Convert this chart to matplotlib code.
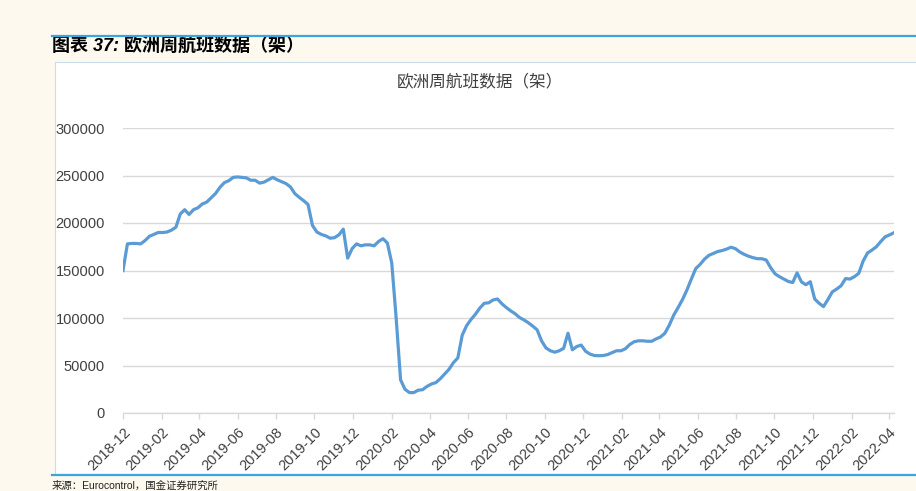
import matplotlib
matplotlib.use("Agg")
import matplotlib.pyplot as plt
from matplotlib.patches import Rectangle
from matplotlib.lines import Line2D
import pandas as pd

# ---- data (weekly flights in Europe) ----
start_date = "2018-12-03"
flights = [
    150000, 178000, 178500, 178500, 178000, 181500, 186000, 188000, 190000, 190000,
    190500, 192500, 195500, 209500, 214000, 209000, 214000, 216000, 220000, 222000,
    226500, 231000, 237500, 242500, 244500, 248000, 248500, 248000, 247500, 245000,
    245000, 242000, 243000, 245500, 248000, 245500, 243500, 241500, 238000, 231000,
    227000, 223500, 219500, 197500, 190500, 188000, 186500, 184000, 184500, 187500,
    193500, 163000, 173000, 178000, 176000, 177000, 177000, 176000, 180500, 183500,
    179000, 158000, 100000, 35000, 25000, 21500, 21500, 24000, 24500, 28000,
    30500, 32000, 36000, 41000, 46000, 53000, 58000, 82000, 92000, 98500,
    104000, 110500, 115500, 116000, 119000, 120000, 115000, 111000, 107500, 104500,
    100500, 98000, 95000, 91500, 87500, 76000, 68500, 65500, 64000, 65500,
    68000, 84000, 66500, 70000, 71500, 65000, 62000, 60500, 60300, 60500,
    61500, 63500, 65500, 65500, 67500, 72000, 75000, 76000, 76000, 75500,
    75500, 78000, 80000, 84000, 92500, 103000, 111000, 119500, 129500, 141000,
    152000, 156500, 162000, 166000, 168000, 170000, 171000, 172500, 174500, 173000,
    169500, 167000, 165000, 163500, 162400, 162400, 161000, 153000, 146500, 143500,
    141000, 138500, 137300, 147500, 138000, 135000, 138200, 120000, 115500, 112000,
    119500, 127500, 130500, 134000, 141500, 141000, 143500, 147000, 160000, 168500,
    171500, 175000, 180500, 185500, 187500, 189800,
]
y_ticks = [0, 50000, 100000, 150000, 200000, 250000, 300000]
header_title = "图表 37: 欧洲周航班数据（架）"
chart_title = "欧洲周航班数据（架）"
source_text = "来源：Eurocontrol，国金证券研究所"

dates = pd.date_range(start_date, periods=len(flights), freq="7D")
tick_dates = [pd.Timestamp(start_date) + pd.DateOffset(months=2 * k) for k in range(21)]

W, H = 916, 491
BG = "#FDF9EE"
LINE = "#5B9BD5"
fam_lat = ["Liberation Sans", "Noto Sans CJK SC"]
fam_cjk = ["Noto Sans CJK SC", "Liberation Sans"]

fig = plt.figure(figsize=(W / 100, H / 100), dpi=100, facecolor=BG)

# white chart panel (behind the axes)
fig.patches.append(Rectangle((55 / W, 1 - 474 / H), (W - 55) / W + 0.01, (474 - 62) / H,
                             transform=fig.transFigure, facecolor="white",
                             edgecolor="#C9DCEB", lw=0.8, zorder=-5))
# header / footer rules
fig.add_artist(Line2D([52 / W, 1], [1 - 36 / H] * 2, color="#3AA6DD", lw=1.6, zorder=5))
fig.add_artist(Line2D([52 / W, 1], [1 - 474.5 / H] * 2, color="#3AA6DD", lw=1.6, zorder=5))

fig.text(52 / W, 1 - 47 / H, header_title, family=fam_lat, fontsize=13,
         fontweight="bold", style="italic", va="center", ha="left", color="black")
fig.text(480 / W, 1 - 83 / H, chart_title, family=fam_cjk, fontsize=12,
         va="center", ha="center", color="#404040")
fig.text(52 / W, 1 - 486 / H, source_text, family=fam_lat, fontsize=7.5,
         va="center", ha="left", color="#222222")

ax = fig.add_axes([123 / W, 1 - 413 / H, (894 - 123) / W, (413 - 128) / H])
ax.set_facecolor("white")
ax.plot(dates, flights, color=LINE, lw=2.3, solid_joinstyle="round", zorder=3)

ax.set_ylim(0, 300000)
ax.set_xlim(dates[0], dates[-1])
ax.set_yticks(y_ticks)
ax.set_yticklabels([str(v) for v in y_ticks], family=fam_lat, fontsize=10.5, color="#404040")
ax.yaxis.grid(True, color="#D9D9D9", lw=1)
ax.set_axisbelow(True)
ax.tick_params(axis="y", length=0, pad=13)

ax.set_xticks(tick_dates)
ax.set_xticklabels([d.strftime("%Y-%m") for d in tick_dates], family=fam_lat,
                   fontsize=10.5, color="#404040", rotation=45, ha="right",
                   va="top", rotation_mode="anchor")
ax.tick_params(axis="x", length=4, color="#D9D9D9", width=1, pad=5)

for s in ["top", "right", "left"]:
    ax.spines[s].set_visible(False)
ax.spines["bottom"].set_color("#D9D9D9")
ax.spines["bottom"].set_linewidth(1)

fig.savefig("out.png", dpi=100, facecolor=BG)
